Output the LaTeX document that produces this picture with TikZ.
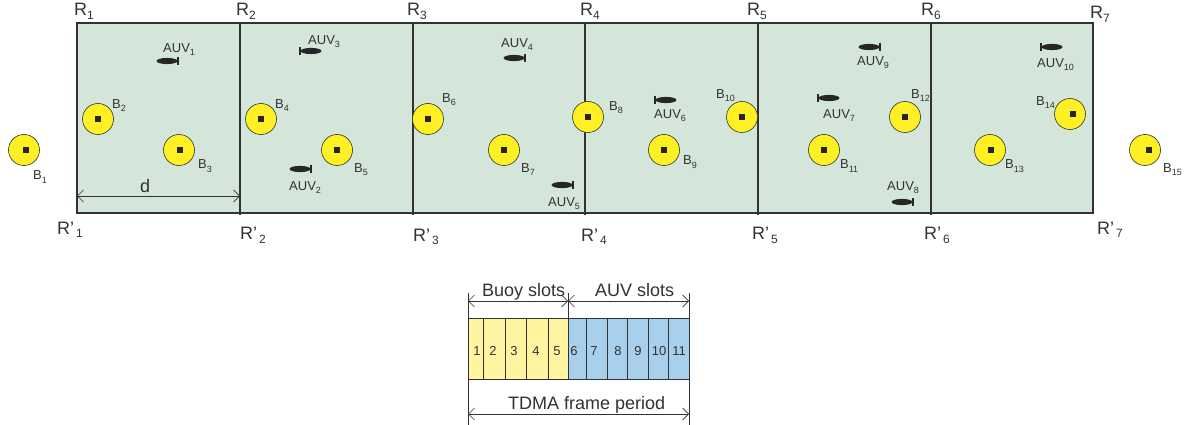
\documentclass[tikz,border=0pt]{standalone}
\usepackage{fontspec}
\setmainfont{Liberation Sans}
\usepackage{xcolor}
\usetikzlibrary{arrows.meta}
\definecolor{VerdeZona}{RGB}{212,230,217}
\definecolor{AmarilloBoya}{RGB}{255,240,35}
\definecolor{AmarilloSlot}{RGB}{255,245,160}
\definecolor{AzulSlot}{RGB}{168,208,236}
\definecolor{GrisLinea}{RGB}{50,50,50}
\newcommand{\subR}[1]{\lower3.5pt\hbox{\fontsize{12}{12}\selectfont #1}}
\newcommand{\subS}[1]{\lower3pt\hbox{\fontsize{9}{9}\selectfont #1}}
\tikzset{
  buoy/.style={circle,draw=GrisLinea,fill=AmarilloBoya,line width=0.6pt,minimum size=31pt,inner sep=0pt},
  corner/.style={font=\fontsize{18}{18}\selectfont,text=GrisLinea,inner sep=0pt,anchor=base west},
  small/.style={font=\fontsize{13}{13}\selectfont,text=GrisLinea,inner sep=0pt,anchor=base west},
  slot/.style={font=\fontsize{13}{13}\selectfont,text=GrisLinea,inner sep=0pt},
  span/.style={font=\fontsize{18}{18}\selectfont,text=GrisLinea,inner sep=0pt,anchor=base west},
  dim/.style={<->,GrisLinea,line width=0.6pt},
}
% boya: centro, marca, etiqueta
\newcommand{\boya}[6]{%
  \node[buoy] (b#1) at (#2,#3) {};
  \fill[black!85] (#4-3.2,#3-3.2) rectangle (#4+3.2,#3+3.2);
  \node[small] (lb#1) at (#5,#6) {B\subS{#1}};
}
% vehiculo: centro, lado de la cola (+1/-1)
\newcommand{\vehiculo}[3]{%
  \fill[black!85] (#1,#2) ellipse (10.5 and 3.1);
  \draw[black!85,line width=1.1pt] (#1+#3*11,#2-4) -- (#1+#3*11,#2+4);
}
\begin{document}
\begin{tikzpicture}[x=1pt,y=-1pt,>={Straight Barb[length=6pt,width=12pt]}]
  \useasboundingbox (0,0) rectangle (1184,425);
  % zonas
  \fill[VerdeZona] (77,23) rectangle (1093,213);
  \draw[GrisLinea,line width=1.3pt] (77,23) rectangle (1093,213);
  \foreach \x in {240,413,585,758,931}
    \draw[GrisLinea,line width=1.1pt] (\x,23) -- (\x,215);
  % puntos R
  \foreach \n/\x/\y in {1/74/16,2/236/16,3/407/16,4/580/16,5/747/16,6/921/16,7/1090/19}
    \node[corner] (r\n) at (\x,\y) {R\subR{\n}};
  \foreach \n/\x/\y in {1/57/234,2/240/240,3/413/241,4/581/241,5/752/240,6/924/240,7/1097/234}
    \node[corner] (q\n) at (\x,\y) {R'\subR{\,\n}};
  % boyas
  \boya{1}{24}{150}{26}{33}{180}
  \boya{2}{98}{119}{98}{112}{109}
  \boya{3}{179}{150}{180}{198}{169}
  \boya{4}{261}{119}{261}{275}{109}
  \boya{5}{337}{150}{337}{354}{172}
  \boya{6}{428}{119}{428}{442}{103}
  \boya{7}{504}{150}{504}{521}{172}
  \boya{8}{588}{117}{588}{609}{111}
  \boya{9}{664}{150}{664}{683}{165}
  \boya{10}{742}{117}{742}{716}{99}
  \boya{11}{824}{150}{824}{840}{169}
  \boya{12}{905}{117}{905}{911}{99}
  \boya{13}{990}{150}{991}{1005}{169}
  \boya{14}{1070}{114}{1073}{1036}{106}
  \boya{15}{1145}{150}{1149}{1163}{172}
  % vehiculos
  \vehiculo{167}{61}{1}
  \vehiculo{300}{169}{1}
  \vehiculo{311}{51}{-1}
  \vehiculo{514}{58}{1}
  \vehiculo{562}{185}{1}
  \vehiculo{666}{100}{-1}
  \vehiculo{829}{98}{-1}
  \vehiculo{902}{202}{1}
  \vehiculo{869}{47}{1}
  \vehiculo{1052}{47}{-1}
  \foreach \n/\x/\y in {1/163/53,2/289/190,3/308/45,4/501/48,5/548/206,6/654/119,7/823/119,8/887/190,9/857/66,10/1037/68}
    \node[small] (a\n) at (\x,\y) {AUV\subS{\n}};
  % distancia
  \coordinate (d1) at (77,196);
  \coordinate (d2) at (240,196);
  \draw[dim] (d1) -- (d2);
  \node[corner] (d) at (140,193) {d};
  % trama
  \fill[AmarilloSlot] (468,318) rectangle (568,379);
  \fill[AzulSlot] (568,318) rectangle (689,379);
  \draw[GrisLinea,line width=0.9pt] (468,318) rectangle (689,379);
  \foreach \x in {483,505,526,548,568,586,607,627,648,668}
    \draw[GrisLinea,line width=0.7pt] (\x,318) -- (\x,379);
  \foreach \n/\x in {1/477,2/493,3/514,4/536,5/557,6/574,7/594,8/618,9/638,10/659,11/679}
    \node[slot] (s\n) at (\x,351) {\n};
  \draw[GrisLinea,line width=0.5pt] (468,293) -- (468,425);
  \draw[GrisLinea,line width=0.5pt] (689,293) -- (689,425);
  \draw[GrisLinea,line width=0.5pt] (568,293) -- (568,318);
  \coordinate (f1) at (468,301);
  \coordinate (f2) at (568,301);
  \coordinate (f3) at (689,301);
  \coordinate (g1) at (468,414);
  \coordinate (g2) at (689,414);
  \draw[dim] (f1) -- (f2);
  \draw[dim] (f2) -- (f3);
  \draw[dim] (g1) -- (g2);
  \node[span] (buoyslots) at (482,296) {Buoy slots};
  \node[span] (auvslots) at (595,296) {AUV slots};
  \node[span] (tdma) at (508,409) {TDMA frame period};
\end{tikzpicture}
\end{document}
